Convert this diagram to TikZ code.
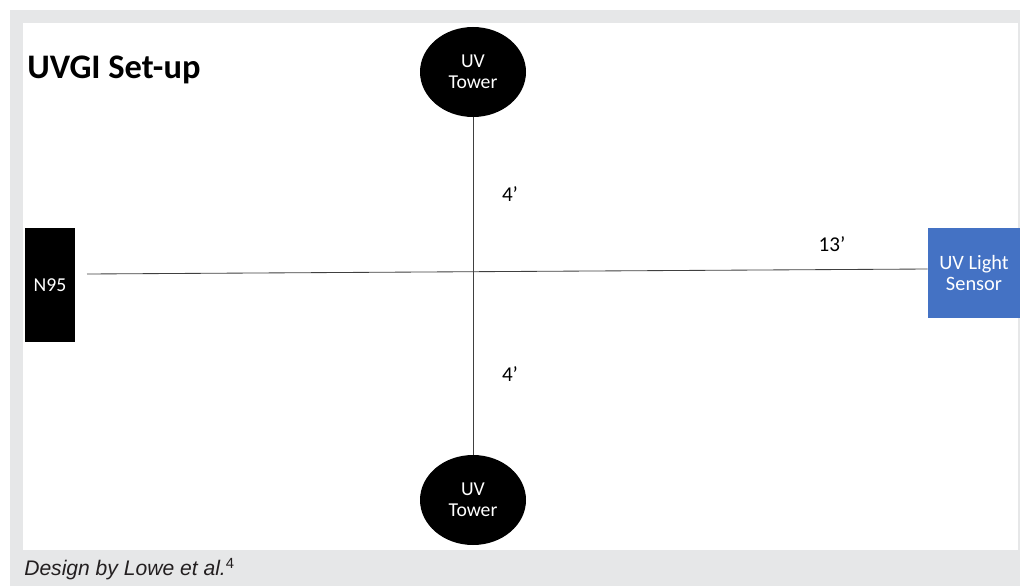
\documentclass[tikz,border=0pt]{standalone}
\usepackage{fontspec}
\setmainfont{Carlito}
\newfontfamily\capfont{Liberation Sans}
\usepackage{xcolor}
\usepackage{tikz}
\usetikzlibrary{positioning,shapes.geometric}
\definecolor{frame}{HTML}{E6E7E8}
\definecolor{sensorblue}{HTML}{4472C4}
\definecolor{captext}{HTML}{231F20}

\begin{document}
\begin{tikzpicture}[
  tower/.style={ellipse,fill=black,text=white,minimum width=2.65cm,minimum height=2.25cm,inner sep=0pt,
    align=center,font=\fontsize{14}{15}\selectfont},
  mask/.style={rectangle,fill=black,text=white,minimum width=1.25cm,minimum height=2.85cm,inner sep=0pt,
    font=\fontsize{14}{15}\selectfont},
  sensor/.style={rectangle,fill=sensorblue,text=white,minimum width=2.3cm,minimum height=2.25cm,inner sep=0pt,
    align=center,font=\fontsize{14.5}{15}\selectfont},
  dist/.style={font=\fontsize{15}{17}\selectfont,inner sep=0pt},
  link/.style={draw=black!75,line width=0.6pt}]

\useasboundingbox (0,0) rectangle (25.5,14.65);

% ---- frame
\fill[frame] (0.25,0) rectangle (25.5,14.4);
\fill[white] (0.575,0.9) rectangle (25.45,14.075);
\node[anchor=west,inner sep=0pt,font=\fontsize{24.5}{28}\selectfont\bfseries] (title) at (0.675,12.9) {UVGI Set-up};

% ---- set-up
\node[tower] (towerT) at (11.825,12.85) {UV\\Tower};
\node[tower] (towerB) at (11.825,2.15) {UV\\Tower};
\node[mask] (n95) at (1.25,7.525) {N95};
\node[sensor] (sensor) at (24.35,7.825) {UV Light\\Sensor};
\coordinate (lineL) at (2.175,7.8);

\draw[link] (towerT) -- (towerB);
\draw[link] (lineL) -- ([yshift=1mm]sensor.west);

\node[dist] (d1) at (12.75,9.8) {4’};
\node[dist] (d2) at (12.75,5.3) {4’};
\node[dist] (d3) at (20.8,8.55) {13’};

% ---- caption
\node[anchor=west,inner sep=0pt,text=captext,font=\capfont\itshape\fontsize{15}{17}\selectfont] (cap) at (0.6,0.42)
  {Design by Lowe et al.\textsuperscript{\upshape 4}};
\end{tikzpicture}
\end{document}
